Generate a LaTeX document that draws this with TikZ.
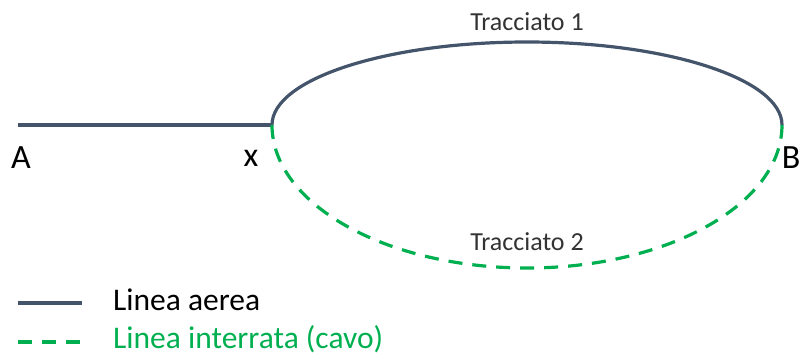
\documentclass[tikz,border=0pt]{standalone}
\usepackage{fontspec}
\setmainfont{Carlito}
\usetikzlibrary{positioning}
\definecolor{aerea}{RGB}{68,84,106}
\definecolor{cavo}{RGB}{0,176,80}
\tikzset{
  aereo/.style={draw=aerea,line width=3.2pt},
  interrato/.style={draw=cavo,line width=3.2pt,dash pattern=on 14pt off 10pt},
  punto/.style={font=\fontsize{34}{40}\selectfont,inner sep=0pt},
  tratto/.style={font=\fontsize{26}{31}\selectfont,text=black!80,inner sep=0pt},
  legenda/.style={font=\fontsize{31.5}{38}\selectfont,inner sep=0pt,anchor=west},
}

\begin{document}
\begin{tikzpicture}[x=1pt,y=-1pt]
  \useasboundingbox (0,0) rectangle (801,360);

  % punti della linea
  \coordinate (a0) at (18,125);
  \coordinate (x0) at (272,125);
  \coordinate (b0) at (782,125);
  \node[punto] (A) at (21,158) {A};
  \node[punto] (X) at (251,158) {x};
  \node[punto,anchor=east] (B) at (800.5,158) {B};

  % tracciati
  \draw[aereo] (a0) -- (x0);
  \draw[aereo] (x0) arc[start angle=180,end angle=0,x radius=255,y radius=-83];
  \draw[interrato] (x0) arc[start angle=180,end angle=360,x radius=255,y radius=-143];
  \node[tratto] (t1) at (527,22) {Tracciato 1};
  \node[tratto] (t2) at (527,242) {Tracciato 2};

  % legenda
  \coordinate (l1a) at (18,303);
  \coordinate (l1b) at (82,303);
  \coordinate (l2a) at (18,342);
  \coordinate (l2b) at (84,342);
  \draw[aereo] (l1a) -- (l1b);
  \draw[interrato] (l2a) -- (l2b);
  \node[legenda] (leg1) at (113,300) {Linea aerea};
  \node[legenda,text=cavo] (leg2) at (113,339) {Linea interrata (cavo)};
\end{tikzpicture}
\end{document}
